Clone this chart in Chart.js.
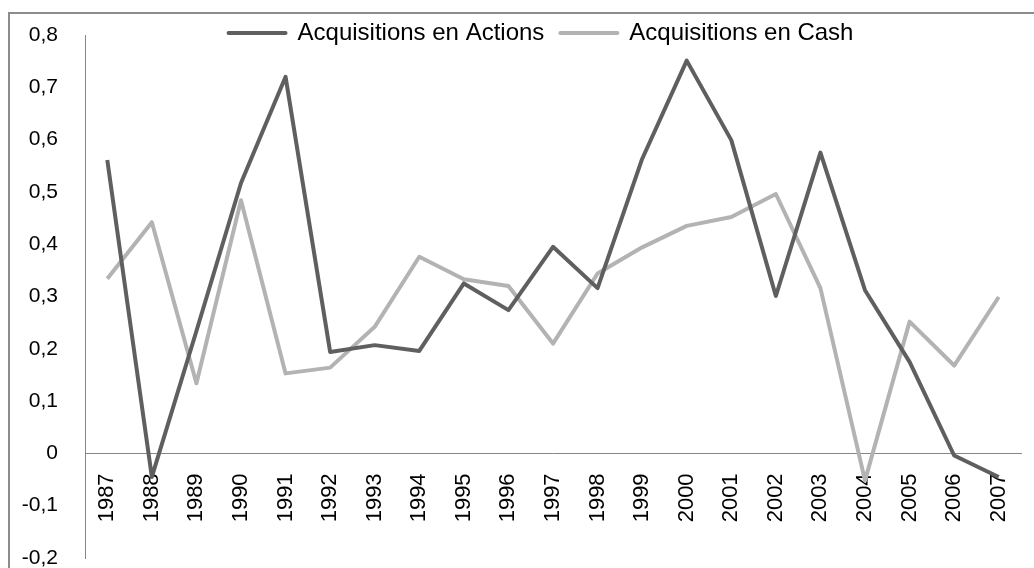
<!DOCTYPE html>
<html>
<head>
<meta charset="utf-8">
<script src="https://cdn.jsdelivr.net/npm/chart.js@4.4.0/dist/chart.umd.min.js"></script>
<style>
    html, body { margin: 0; padding: 0; background: #fff; overflow: hidden; }
    #cadre {
        position: absolute; left: 8px; top: 12px; right: -10px; bottom: -10px;
        border-top: 2px solid #8c8c8c; border-left: 2px solid #8c8c8c;
    }
    #wrap { position: absolute; left: 0; top: 0; width: 1034px; height: 568px; }
</style>
</head>
<body>
<div id="cadre"></div>
<div id="wrap"><canvas id="grafik" width="1034" height="568"></canvas></div>
<script>
const annees = ["1987", "1988", "1989", "1990", "1991", "1992", "1993", "1994", "1995", "1996", "1997",
    "1998", "1999", "2000", "2001", "2002", "2003", "2004", "2005", "2006", "2007"];
const actions = [0.561, -0.045, 0.234, 0.517, 0.72, 0.194, 0.207, 0.196, 0.325, 0.274, 0.395,
    0.316, 0.563, 0.751, 0.599, 0.301, 0.575, 0.312, 0.175, -0.004, -0.045];
const cash = [0.334, 0.442, 0.134, 0.484, 0.153, 0.164, 0.242, 0.376, 0.333, 0.320, 0.210,
    0.344, 0.394, 0.435, 0.452, 0.496, 0.316, -0.052, 0.252, 0.168, 0.299];
const yTickLabels = ["-0,2", "-0,1", "0", "0,1", "0,2", "0,3", "0,4", "0,5", "0,6", "0,7", "0,8"];

const police = "'Liberation Sans', Arial, sans-serif";

// la légende déborde sur la zone du graphique (comme dans Excel)
const legendeDebord = {
    id: "legendeDebord",
    afterLayout(chart) {
        const l = chart.legend;
        l.bottom = l.top + 60;
        l.height = 60;
        l.left -= 12;
        l.right -= 12;
    }
};

const ctx = document.getElementById("grafik").getContext("2d");

new Chart(ctx, {
    type: "line",
    data: {
        labels: annees,
        datasets: [
            {
                label: "Acquisitions en Actions",
                data: actions,
                borderColor: "#5f5f5f",
                backgroundColor: "#5f5f5f",
                borderWidth: 4,
                pointRadius: 0,
                tension: 0,
                borderJoinStyle: "round"
            },
            {
                label: "Acquisitions en Cash",
                data: cash,
                borderColor: "#b3b3b3",
                backgroundColor: "#b3b3b3",
                borderWidth: 4,
                pointRadius: 0,
                tension: 0,
                borderJoinStyle: "round"
            }
        ]
    },
    options: {
        responsive: false,
        animation: false,
        layout: { padding: { left: 0, right: 13, top: 5, bottom: 10 } },
        plugins: {
            legend: {
                position: "top",
                fullSize: false,
                maxHeight: 30,
                labels: {
                    boxWidth: 57,
                    boxHeight: 0,
                    padding: 16,
                    color: "#000",
                    font: { family: police, size: 24 }
                }
            },
            tooltip: { enabled: false }
        },
        scales: {
            x: {
                position: { y: 0 },
                offset: true,
                afterFit: scale => { scale.paddingLeft = 0; scale.paddingRight = 0; },
                grid: { display: false, drawTicks: false },
                border: { display: true, color: "#868686", width: 1 },
                ticks: {
                    minRotation: 90,
                    maxRotation: 90,
                    autoSkip: false,
                    padding: 20,
                    color: "#000",
                    font: { family: police, size: 22 }
                }
            },
            y: {
                min: -0.2,
                max: 0.8,
                afterFit: scale => {
                    scale.width = 85;
                    scale.paddingTop = 0;
                    scale.paddingBottom = 0;
                },
                grid: { display: false, drawTicks: false },
                border: { display: true, color: "#868686", width: 1 },
                ticks: {
                    stepSize: 0.1,
                    padding: 27,
                    color: "#000",
                    font: { family: police, size: 21, lineHeight: 1 },
                    callback: (value, i) => yTickLabels[i]
                }
            }
        }
    },
    plugins: [legendeDebord]
});
</script>
</body>
</html>
